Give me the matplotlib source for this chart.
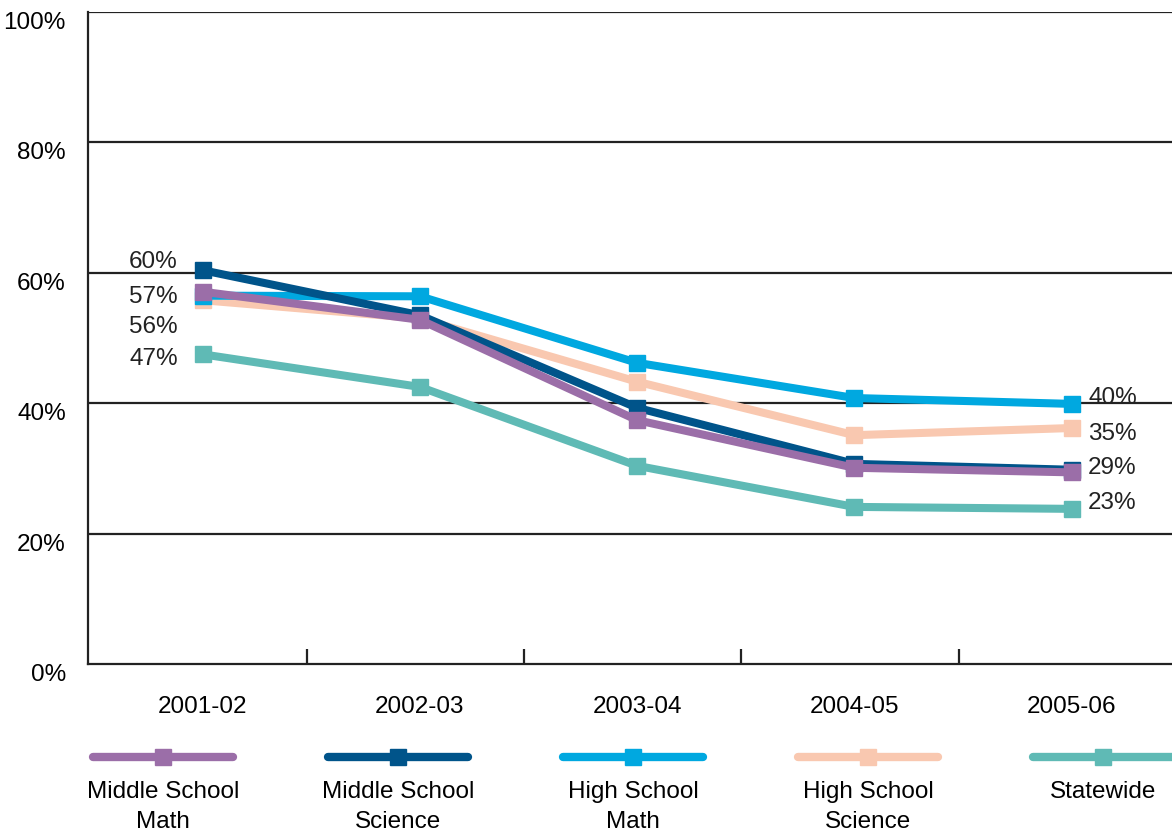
import matplotlib
matplotlib.use('Agg')
import matplotlib.pyplot as plt
from matplotlib.lines import Line2D
import numpy as np

plt.rcParams['font.family'] = ['Liberation Sans', 'DejaVu Sans']

years = ['2001-02', '2002-03', '2003-04', '2004-05', '2005-06']
ms_math = [57.1, 52.8, 37.4, 30.1, 29.4]
ms_science = [60.4, 53.5, 39.3, 30.7, 29.8]
hs_math = [56.5, 56.4, 46.2, 40.8, 39.9]
hs_science = [55.8, 53.0, 43.3, 35.1, 36.2]
statewide = [47.5, 42.5, 30.4, 24.1, 23.8]

names = ['Middle School\nMath', 'Middle School\nScience', 'High School\nMath',
         'High School\nScience', 'Statewide']
colors = ['#9b6ea8', '#00548a', '#00a8e0', '#f9c8b0', '#5fbab5']

# labels: (series index, point index, text, y offset in points)
labels = [
    (1, 0, '60%', 6), (0, 0, '57%', -4), (3, 0, '56%', -19), (4, 0, '47%', -3),
    (2, 4, '40%', 4), (3, 4, '35%', -4), (0, 4, '29%', 3), (4, 4, '23%', 4),
]

series = [ms_math, ms_science, hs_math, hs_science, statewide]
x = np.arange(len(years))
fs = 17.5

fig = plt.figure(figsize=(11.72, 8.36), dpi=100)
ax = fig.add_axes([0.0751, 0.2057, 0.93, 0.7799])

for y in [20, 40, 60, 80, 100]:
    ax.axhline(y, color='#222222', lw=1.6, zorder=1)

order = [4, 3, 2, 1, 0]
for z, i in enumerate(order):
    ax.plot(x, series[i], color=colors[i], lw=5.8, marker='s', ms=11,
            solid_joinstyle='miter', zorder=3 + z)

for si, pi, txt, dy in labels:
    if pi == 0:
        ax.annotate(txt, (x[pi], series[si][pi]), xytext=(-18, dy), textcoords='offset points',
                    ha='right', va='center', fontsize=fs, color='#222222')
    else:
        ax.annotate(txt, (x[pi], series[si][pi]), xytext=(12, dy), textcoords='offset points',
                    ha='left', va='center', fontsize=fs, color='#222222')

ax.set_xlim(-0.528, 4.49)
ax.set_ylim(0, 100)
ax.set_yticks([0, 20, 40, 60, 80, 100])
ax.set_yticklabels(['0%', '20%', '40%', '60%', '80%', '100%'])
ax.set_xticks(x)
ax.set_xticklabels(years)
ax.set_xticks(x[:-1] + 0.48, minor=True)
ax.tick_params(axis='x', which='major', length=0, pad=23, labelsize=fs)
ax.tick_params(axis='x', which='minor', direction='in', length=11, width=1.6, color='#222222')
ax.tick_params(axis='y', length=0, pad=16, labelsize=fs)
for lab in ax.get_yticklabels():
    lab.set_verticalalignment('top')
for s in ['top', 'right']:
    ax.spines[s].set_visible(False)
for s in ['left', 'bottom']:
    ax.spines[s].set_linewidth(1.6)
    ax.spines[s].set_color('#222222')

# legend below the chart
for k in range(5):
    cx = (163 + 235 * k) / 1172
    y0 = 1 - 757 / 836
    fig.add_artist(Line2D([cx - 70 / 1172, cx + 70 / 1172], [y0, y0], color=colors[k], lw=6,
                          solid_capstyle='round', transform=fig.transFigure))
    fig.add_artist(Line2D([cx], [y0], color=colors[k], marker='s', ms=11,
                          transform=fig.transFigure))
    fig.text(cx, 1 - 781 / 836, names[k], ha='center', va='top', fontsize=fs,
             linespacing=1.45, color='black')

fig.savefig('out.png', dpi=100)
